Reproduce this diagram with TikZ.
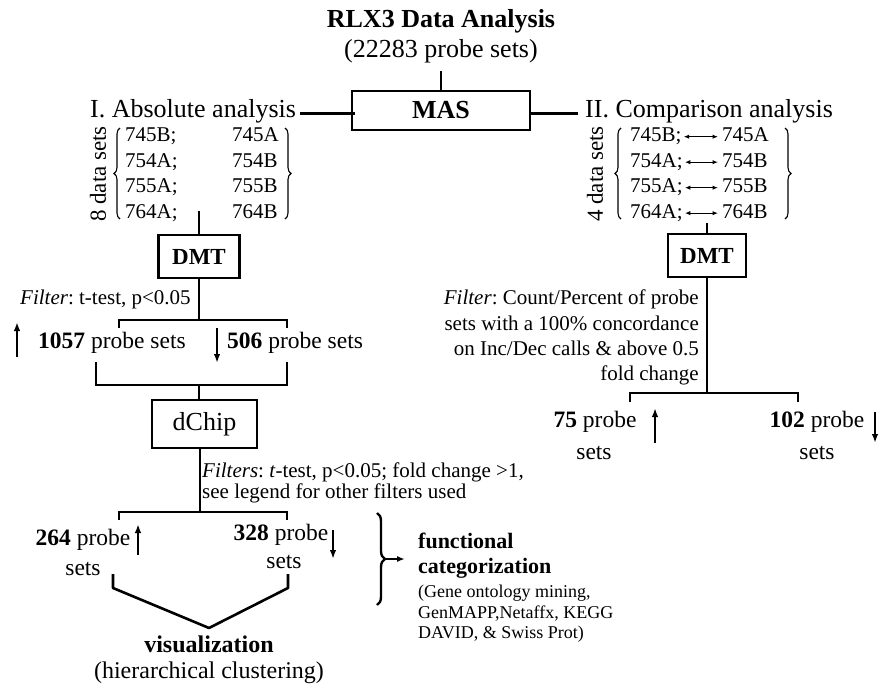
\documentclass[tikz,border=0pt]{standalone}
\usepackage{fontspec}
\setmainfont{Liberation Serif}
\usetikzlibrary{arrows.meta,decorations.pathreplacing}
\frenchspacing

\begin{document}
\begin{tikzpicture}[x=1pt,y=-1pt,
  every node/.style={inner sep=0pt},
  heavy/.style={line width=2.6pt},
  box/.style={draw,line width=2.6pt,inner sep=0pt},
  big/.style={font=\fontsize{26}{30}\selectfont},
  rowtxt/.style={font=\fontsize{21}{25}\selectfont},
  probe/.style={font=\fontsize{23.5}{28}\selectfont},
  filt/.style={font=\fontsize{21}{25}\selectfont},
  note/.style={font=\fontsize{18}{20}\selectfont},
  updown/.style={-{Latex[length=9pt,width=6.5pt]},line width=2.2pt},
  pair/.style={{Latex[length=5.5pt,width=4.5pt]}-{Latex[length=5.5pt,width=4.5pt]},line width=1.1pt},
  curly/.style={decorate,decoration={brace,amplitude=6pt},line width=1.1pt}
]
\useasboundingbox (0,0) rectangle (881,687);

% ---------- header ----------
\node[big,anchor=base] (title) at (441,28) {\bfseries RLX3 Data Analysis};
\node[big,anchor=base] (sub) at (441,58) {(22283 probe sets)};
\node[box,big,minimum width=178,minimum height=39] (mas) at (441,110.5) {\bfseries MAS};
\draw[line width=2pt] (mas.north) -- ++(0,-19);

\node[big,anchor=base west] (abs) at (90,118) {I. Absolute analysis};
\node[big,anchor=base west] (cmp) at (585,118) {II. Comparison analysis};
\draw[heavy] ([xshift=4pt,yshift=-1.5pt]abs.east) -- ([xshift=4pt,yshift=-1.5pt]abs.east -| mas.west);
\draw[heavy] ([yshift=-1.5pt]mas.east |- cmp.west) -- ([xshift=-7pt,yshift=-1.5pt]cmp.west);

% ---------- absolute analysis: data sets ----------
\node[font=\fontsize{23}{26}\selectfont,rotate=90] (eight) at (98,174) {8 data sets};
\draw[curly] (120,219) -- (120,128);
\draw[curly] (285,128) -- (285,219);
\foreach \a/\b [count=\k] in {745B;/745A,754A;/754B,755A;/755B,764A;/764B}{
  \node[rowtxt,anchor=base west] (la\k) at (125,{142+25.5*(\k-1)}) {\a};
  \node[rowtxt,anchor=base west] (lb\k) at (232,{142+25.5*(\k-1)}) {\b};
}

% ---------- absolute analysis: DMT and filter ----------
\node[box,minimum width=81,minimum height=43,font=\fontsize{23}{26}\selectfont] (ldmt) at (199,256.5) {\bfseries DMT};
\coordinate (lstem) at (199,211);
\draw[heavy] (lstem) -- (ldmt.north);

\node[filt,anchor=base west] (lfilter) at (20,305) {\textit{Filter}: t-test, p<0.05};

\coordinate (lsplit) at (199,320);
\coordinate (lsL) at (119,320);
\coordinate (lsR) at (287,320);
\draw[heavy] (ldmt.south) -- (lsplit);
\draw[heavy] ([yshift=-8pt]lsL) -- (lsL) -- (lsR) -- ([yshift=-8pt]lsR);

\node[probe,anchor=base west] (up1) at (38,348) {\textbf{1057} probe sets};
\node[probe,anchor=base west] (dn1) at (227,348) {\textbf{506} probe sets};
\coordinate (up1a) at (17,357);
\coordinate (dn1a) at (217,328);
\draw[updown] (up1a) -- ++(0,-35);
\draw[updown] (dn1a) -- ++(0,35);

\coordinate (ljL) at (96,385);
\coordinate (ljR) at (287,385);
\coordinate (ljM) at (199,385);
\draw[heavy] ([yshift=23pt]ljL) -- (ljL) -- (ljR) -- ([yshift=23pt]ljR);

\node[box,minimum width=105,minimum height=48,font=\fontsize{26}{30}\selectfont] (dchip) at (204.5,424) {dChip};
\draw[heavy] (ljM) -- (ljM |- dchip.north);

% ---------- dChip filters ----------
\node[filt,anchor=base west] (ff1) at (202,477) {\textit{Filters}: \textit{t}-test, p<0.05; fold change >1,};
\node[filt,anchor=base west] (ff2) at (202,498) {see legend for other filters used};

\coordinate (dsplit) at (200,512);
\coordinate (dsL) at (119,512);
\coordinate (dsR) at (287,512);
\draw[heavy] (dsplit |- dchip.south) -- (dsplit);
\draw[heavy] ([yshift=-8pt]dsL) -- (dsL) -- (dsR) -- ([yshift=-8pt]dsR);

\node[probe,anchor=base] (up2) at (83,545) {\textbf{264} probe};
\node[probe,anchor=base] (up2s) at (83,575) {sets};
\node[probe,anchor=base] (dn2) at (281,540) {\textbf{328} probe};
\node[probe,anchor=base] (dn2s) at (284,568) {sets};
\coordinate (up2a) at (138,555);
\coordinate (dn2a) at (333,530);
\draw[updown] (up2a) -- ++(0,-31);
\draw[updown] (dn2a) -- ++(0,29);

% ---------- visualization ----------
\coordinate (vL) at (113,574);
\coordinate (vR) at (288,574);
\coordinate (vApex) at (209,628);
\draw[heavy,line join=round] (vL) -- ++(0,14) -- (vApex) -- ([yshift=-14pt]vR) -- (vR);
\node[font=\fontsize{24}{28}\selectfont,anchor=base] (vis) at (209,652) {\bfseries visualization};
\node[font=\fontsize{24}{28}\selectfont,anchor=base] (visb) at (209,678) {(hierarchical clustering)};

% ---------- functional categorization ----------
\draw[decorate,decoration={brace,amplitude=8pt},line width=2.4pt] (377,513) -- (377,605);
\coordinate (btip) at (386,559);
\node[font=\fontsize{22}{25}\selectfont,anchor=base west] (fc1) at (418,548) {\bfseries functional};
\node[font=\fontsize{22}{25}\selectfont,anchor=base west] (fc2) at (418,573) {\bfseries categorization};
\draw[-{Latex[length=8pt,width=6pt]},line width=2pt] (btip) -- ([xshift=-13pt]btip -| fc2.west);
\node[note,anchor=base west] (fn1) at (418,597) {(Gene ontology mining,};
\node[note,anchor=base west] (fn2) at (418,618) {GenMAPP,Netaffx, KEGG};
\node[note,anchor=base west] (fn3) at (418,638) {DAVID, \& Swiss Prot)};

% ---------- comparison analysis: data sets ----------
\node[font=\fontsize{23}{26}\selectfont,rotate=90] (four) at (595,174) {4 data sets};
\draw[curly] (621,219) -- (621,128);
\draw[curly] (785,128) -- (785,219);
\foreach \a/\b [count=\k] in {745B;/745A,754A;/754B,755A;/755B,764A;/764B}{
  \node[rowtxt,anchor=base west] (ra\k) at (630,{142+25.5*(\k-1)}) {\a};
  \node[rowtxt,anchor=base west] (rb\k) at (722,{142+25.5*(\k-1)}) {\b};
  \draw[pair] ([xshift=2pt]ra\k.east) -- ([xshift=-4pt]ra\k.east -| rb\k.west);
}

% ---------- comparison analysis: DMT and filter ----------
\node[box,minimum width=78,minimum height=43,font=\fontsize{23}{26}\selectfont] (rdmt) at (707,255.5) {\bfseries DMT};
\coordinate (rstem) at (707,223);
\draw[heavy] (rstem) -- (rdmt.north);

\node[filt,anchor=base east] (rf1) at (699,305) {\textit{Filter}: Count/Percent of probe};
\node[filt,anchor=base east] (rf2) at (699,330) {sets with a 100\% concordance};
\node[filt,anchor=base east] (rf3) at (699,355) {on Inc/Dec calls \& above 0.5};
\node[filt,anchor=base east] (rf4) at (699,380) {fold change};

\coordinate (rsplit) at (707,393);
\coordinate (rsL) at (630,393);
\coordinate (rsR) at (798,393);
\draw[heavy] (rdmt.south) -- (rsplit);
\draw[heavy] ([yshift=-9pt]rsL) -- (rsL) -- (rsR) -- ([yshift=-9pt]rsR);

\node[probe,anchor=base] (up3) at (595,427) {\textbf{75} probe};
\node[probe,anchor=base] (up3s) at (594,459) {sets};
\node[probe,anchor=base] (dn3) at (817,427) {\textbf{102} probe};
\node[probe,anchor=base] (dn3s) at (817,459) {sets};
\coordinate (up3a) at (655,443);
\coordinate (dn3a) at (875,412);
\draw[updown] (up3a) -- ++(0,-35);
\draw[updown] (dn3a) -- ++(0,31);
\end{tikzpicture}
\end{document}
